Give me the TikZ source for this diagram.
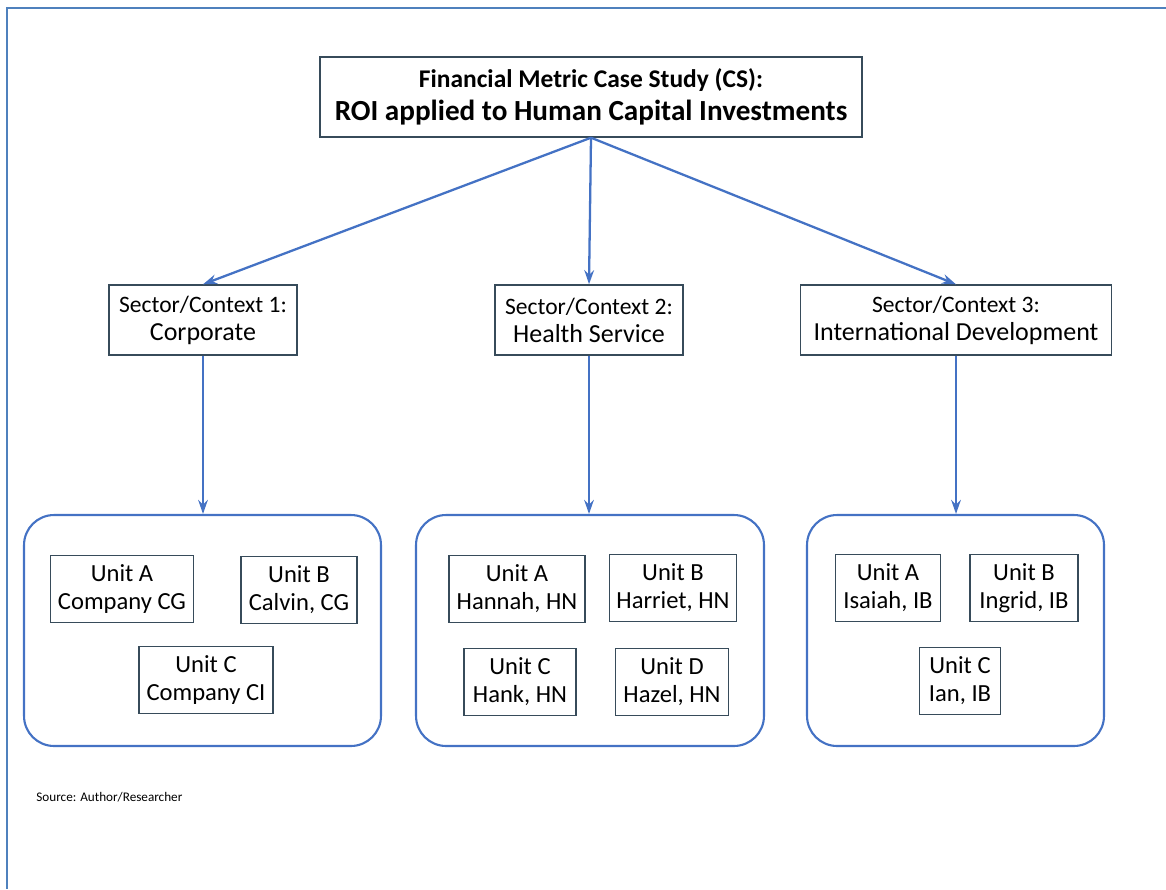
\documentclass[tikz,border=0pt]{standalone}
\usepackage{fontspec}
\setmainfont{Carlito}
\usepackage{tikz}
\usetikzlibrary{arrows.meta}

\definecolor{framblue}{RGB}{79,129,189}
\definecolor{arrblue}{RGB}{68,114,196}
\definecolor{boxgray}{RGB}{55,75,90}

\begin{document}
\begin{tikzpicture}[x=0.02cm, y=-0.02cm,
                    box/.style={draw=boxgray, line width=0.8pt, align=center,
                                inner sep=0pt},
                    grp/.style={draw=arrblue, line width=1.2pt, rounded corners=0.6cm,
                                minimum height=4.62cm, inner sep=0pt},
                    unit/.style={box, minimum height=1.34cm,
                                 font=\fontsize{14}{16}\selectfont},
                    link/.style={draw=arrblue, line width=1.3pt,
                                 -{Stealth[length=8pt,width=5.5pt]}}]

                      \useasboundingbox (0,0) rectangle (1166,889);
                      \draw[framblue, line width=1.2pt] (1166,8) -- (7,8) -- (7,889);

                      \node[box, minimum width=10.84cm, minimum height=1.6cm] (title) at (591,97)
                          {\bfseries\fontsize{14.5}{18}\selectfont Financial Metric Case Study (CS):\\[4pt]
                           \bfseries\fontsize{16.6}{18}\selectfont ROI applied to Human Capital Investments};

                      \node[box, minimum width=3.76cm, minimum height=1.4cm] (sec1) at (203,320)
                          {\fontsize{13.4}{16}\selectfont Sector/Context 1:\\[4pt]
                           \fontsize{14.8}{16}\selectfont Corporate};
                      \node[box, minimum width=3.76cm, minimum height=1.4cm] (sec2) at (589,320)
                          {\fontsize{13.4}{16}\selectfont Sector/Context 2:\\[4pt]
                           \fontsize{14.8}{16}\selectfont Health Service};
                      \node[box, minimum width=6.22cm, minimum height=1.4cm] (sec3) at (956,320)
                          {\fontsize{13.4}{16}\selectfont Sector/Context 3:\\[4pt]
                           \fontsize{14.8}{16}\selectfont International Development};

                      \node[grp, minimum width=7.14cm] (grp1) at (202.5,630.5) {};
                      \node[grp, minimum width=6.96cm] (grp2) at (590,630.5) {};
                      \node[grp, minimum width=5.94cm] (grp3) at (955.5,630.5) {};

                      % corporate units
                      \node[unit, minimum width=2.86cm] (ca) at (122,589) {Unit A\\Company CG};
                      \node[unit, minimum width=2.32cm] (cb) at (299,590) {Unit B\\Calvin, CG};
                      \node[unit, minimum width=2.68cm] (cc) at (206,680) {Unit C\\Company CI};

                      % health service units
                      \node[unit, minimum width=2.72cm] (ha) at (517,589) {Unit A\\Hannah, HN};
                      \node[unit, minimum width=2.54cm] (hb) at (673,588) {Unit B\\Harriet, HN};
                      \node[unit, minimum width=2.24cm] (hc) at (520,682) {Unit C\\Hank, HN};
                      \node[unit, minimum width=2.26cm] (hd) at (672,682) {Unit D\\Hazel, HN};

                      % international development units
                      \node[unit, minimum width=2.1cm] (ia) at (888,588) {Unit A\\Isaiah, IB};
                      \node[unit, minimum width=2.16cm] (ib) at (1024,588) {Unit B\\Ingrid, IB};
                      \node[unit, minimum width=1.62cm] (ic) at (960,681) {Unit C\\Ian, IB};

                      \node[anchor=west, inner sep=0pt, font=\fontsize{7.5}{9}\selectfont] (src)
                          at (36,797) {Source: Author/Researcher};

                      \foreach \s in {sec1, sec2, sec3} {
                              \draw[link] (title.south) -- (\s.north);
                          }
                      \foreach \s/\g in {sec1/grp1, sec2/grp2, sec3/grp3} {
                              \draw[link] (\s.south) -- (\s.south |- \g.north);
                          }
                  \end{tikzpicture}
\end{document}
